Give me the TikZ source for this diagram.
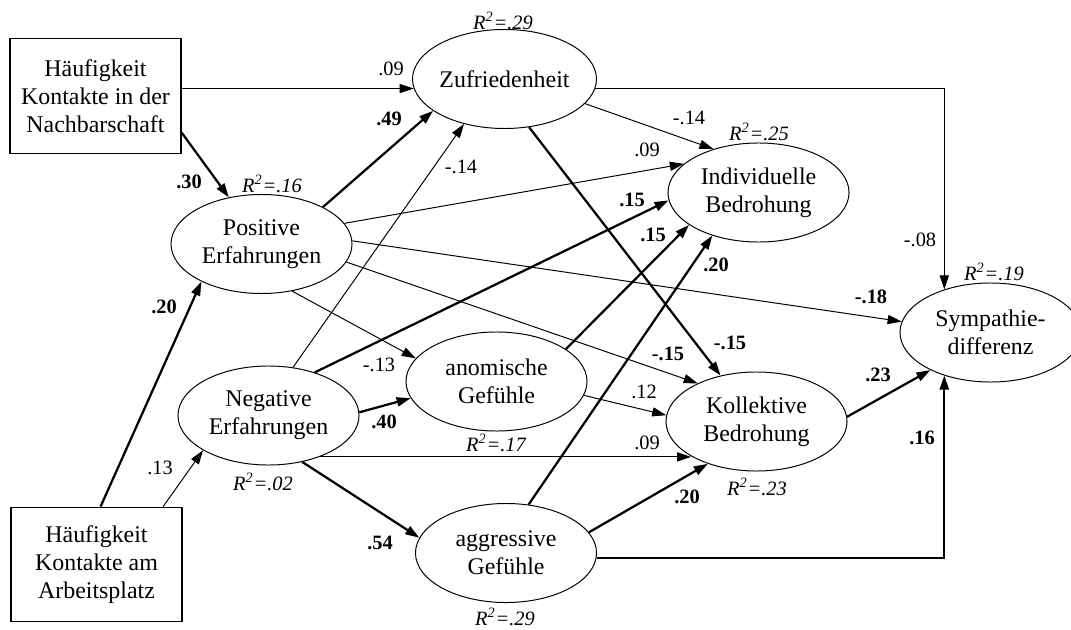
\documentclass[tikz,border=0pt]{standalone}
\usepackage{fontspec}
\setmainfont{Liberation Serif}
\usetikzlibrary{arrows.meta,shapes.geometric}

\begin{document}
\begin{tikzpicture}[x=0.025cm,y=-0.025cm,
  font=\fontsize{17}{20}\selectfont,
  latent/.style={draw, ellipse, line width=0.7pt, inner sep=0pt, align=center, minimum width=4.525cm, minimum height=2.475cm},
  manifest/.style={draw, rectangle, line width=0.9pt, inner sep=0pt, align=center, minimum width=4.275cm, minimum height=2.8625cm},
  arrowthin/.style={-{Triangle[length=10pt,width=6.5pt]}, line width=0.7pt},
  arrowthick/.style={arrowthin, line width=1.6pt},
  coef/.style={font=\fontsize{14.5}{17}\selectfont, inner sep=0pt},
  bcoef/.style={coef, font=\fontsize{14.5}{17}\selectfont\bfseries},
  rsq/.style={coef, font=\fontsize{14.5}{17}\selectfont\itshape}]
\useasboundingbox (0,0) rectangle (1071,630);
\node[manifest] (nachbar) at (95.5,96) {Häufigkeit\\Kontakte in der\\Nachbarschaft};
\node[manifest] (arbeit) at (96.5,564.5) {Häufigkeit\\Kontakte am\\Arbeitsplatz};
\node[latent] (zuf) at (504.5,79) {Zufriedenheit};
\node[latent] (pos) at (261.5,244) {Positive\\Erfahrungen};
\node[latent] (neg) at (268.5,415.5) {Negative\\Erfahrungen};
\node[latent] (ano) at (496.5,381.5) {anomische\\Gefühle};
\node[latent] (agg) at (506,553) {aggressive\\Gefühle};
\node[latent] (ind) at (758.5,192.5) {Individuelle\\Bedrohung};
\node[latent] (kol) at (756.5,421.5) {Kollektive\\Bedrohung};
\node[latent] (sym) at (990.5,332.5) {Sympathie-\\differenz};
\node[rsq] (rzuf) at (503,21) {R\textsuperscript{2}=.29};
\node[rsq] (rpos) at (272,184) {R\textsuperscript{2}=.16};
\node[rsq] (rneg) at (263,482) {R\textsuperscript{2}=.02};
\node[rsq] (rano) at (496,443) {R\textsuperscript{2}=.17};
\node[rsq] (ragg) at (505,617) {R\textsuperscript{2}=.29};
\node[rsq] (rind) at (759,132) {R\textsuperscript{2}=.25};
\node[rsq] (rkol) at (757,487) {R\textsuperscript{2}=.23};
\node[rsq] (rsym) at (994,272) {R\textsuperscript{2}=.19};
\draw[arrowthin] (nachbar.east |- zuf.186) -- (zuf.186);
\draw[arrowthin] (zuf.354) -| (sym.137);
\draw[arrowthick] (nachbar.337) -- (pos.125);
\draw[arrowthick] (arbeit.86) -- (pos.212);
\draw[arrowthin] (arbeit.41) -- (neg.208);
\draw[arrowthick] (pos.31) -- (zuf.204);
\draw[arrowthin] (neg.63) -- (zuf.228);
\draw[arrowthin] (zuf.343) -- (ind.136);
\draw[arrowthin] (pos.14) -- (ind.159);
\draw[arrowthick] (zuf.297) -- (kol.128);
\draw[arrowthick] (neg.43) -- (ind.185);
\draw[arrowthick] (ano.25) -- (ind.205);
\draw[arrowthick] (agg.65) -- (ind.223);
\draw[arrowthin] (pos.2) -- (sym.173);
\draw[arrowthin] (pos.348) -- (kol.147);
\draw[arrowthin] (pos.303) -- (ano.164);
\draw[arrowthick] (neg.2) -- (ano.191);
\draw[arrowthin] (ano.351) -- (kol.176);
\draw[arrowthin] (neg.321) -- (neg.321 -| kol.208);
\draw[arrowthick] (neg.306) -- (agg.170);
\draw[arrowthick] (agg.14) -- (kol.221);
\draw[arrowthick] (agg.357) -| (sym.223);
\draw[arrowthick] (kol.3) -- (sym.212);
\node[coef] (k1) at (391,69) {.09};
\node[coef] (k2) at (920,240) {-.08};
\node[bcoef] (k3) at (189,182) {.30};
\node[bcoef] (k4) at (164,307) {.20};
\node[coef] (k5) at (160,468) {.13};
\node[bcoef] (k6) at (389,119) {.49};
\node[coef] (k7) at (461,167) {-.14};
\node[coef] (k8) at (689,118) {-.14};
\node[coef] (k9) at (647,150) {.09};
\node[bcoef] (k10) at (730,343) {-.15};
\node[bcoef] (k11) at (632,200) {.15};
\node[bcoef] (k12) at (653,235) {.15};
\node[bcoef] (k13) at (716,265) {.20};
\node[bcoef] (k14) at (871,297) {-.18};
\node[bcoef] (k15) at (668,354) {-.15};
\node[coef] (k16) at (379,365) {-.13};
\node[bcoef] (k17) at (384,422) {.40};
\node[coef] (k18) at (644,392) {.12};
\node[coef] (k19) at (647,443) {.09};
\node[bcoef] (k20) at (380,543) {.54};
\node[bcoef] (k21) at (687,497) {.20};
\node[bcoef] (k22) at (922,438) {.16};
\node[bcoef] (k23) at (878,375) {.23};
\end{tikzpicture}
\end{document}
